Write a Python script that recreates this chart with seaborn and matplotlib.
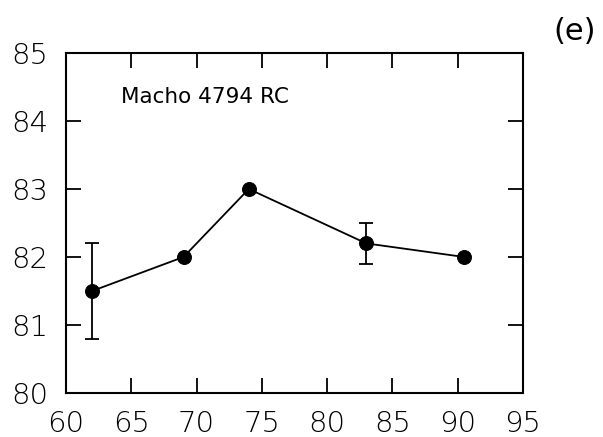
import matplotlib
matplotlib.use("Agg")
import matplotlib.pyplot as plt
import seaborn as sns
import pandas as pd

x_vals = [62, 69, 74, 83, 90.5]
y_vals = [81.5, 82.0, 83.0, 82.2, 82.0]
y_err = [0.7, 0.0, 0.0, 0.3, 0.0]
x_ticks = [60, 65, 70, 75, 80, 85, 90, 95]
y_ticks = [80, 81, 82, 83, 84, 85]
label_text = "Macho 4794 RC"
panel_text = "(e)"

sns.set_theme(style="white")
plt.rcParams['font.family'] = ['DejaVu Sans']

df = pd.DataFrame({"x": x_vals, "y": y_vals, "err": y_err})

fig = plt.figure(figsize=(6.03, 4.37), dpi=100)
ax = fig.add_axes([66/603, 44/437, 457/603, 340/437])

sns.lineplot(data=df, x="x", y="y", ax=ax, color="black", linewidth=1.3,
             marker="o", markersize=10, markeredgecolor="black",
             markerfacecolor="black", zorder=3)
err_df = df[df["err"] > 0]
ax.errorbar(err_df["x"], err_df["y"], yerr=err_df["err"], fmt="none",
            ecolor="black", elinewidth=1.3, capsize=5, capthick=1.3, zorder=2)

ax.set_xlim(60, 95)
ax.set_ylim(80, 85)
ax.set_xticks(x_ticks)
ax.set_yticks(y_ticks)
ax.set_xlabel("")
ax.set_ylabel("")
for s in ax.spines.values():
    s.set_visible(True)
    s.set_color("black")
    s.set_linewidth(1.5)
ax.tick_params(axis="both", direction="in", length=11, width=1.3,
               colors="black", labelsize=21, top=True, right=True,
               bottom=True, left=True)
ax.tick_params(axis="x", pad=12)
ax.tick_params(axis="y", pad=13)
for lab in ax.get_xticklabels() + ax.get_yticklabels():
    lab.set_fontweight("light")

ax.text(64.2, 84.35, label_text, fontsize=15.5, color="black",
        ha="left", va="center")
fig.text(575/603, 1 - 32/437, panel_text, fontsize=22, color="black",
         ha="center", va="center")

fig.savefig("out.png", dpi=100)
